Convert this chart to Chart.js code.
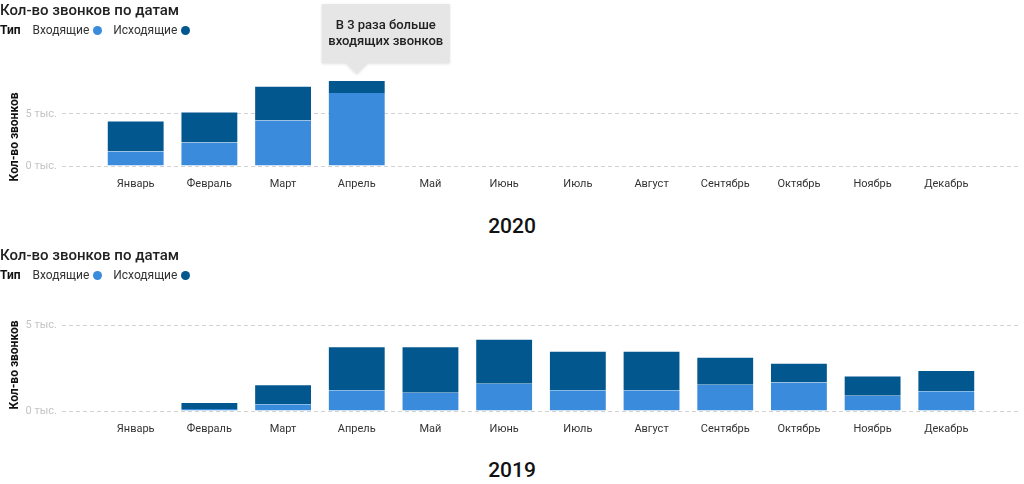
<!DOCTYPE html>
<html lang="ru">
<head>
<meta charset="utf-8">
<title>Кол-во звонков по датам</title>
<script src="https://cdn.jsdelivr.net/npm/chart.js@4/dist/chart.umd.min.js"></script>
<style>
    html, body {
        margin: 0;
        padding: 0;
        background: #ffffff;
    }
    body {
        position: relative;
        width: 1024px;
        height: 484px;
        overflow: hidden;
        font-family: Roboto, "Noto Sans", sans-serif;
        color: #212121;
    }
    .chart-box {
        position: absolute;
        left: 0;
        width: 1024px;
        height: 200px;
    }
    .chart-title {
        position: absolute;
        left: 0;
        font-size: 15px;
        font-weight: 500;
        line-height: 18px;
        z-index: 2;
    }
    .legend {
        position: absolute;
        left: 0;
        font-size: 12px;
        line-height: 14px;
        color: #333;
        white-space: nowrap;
        z-index: 2;
    }
    .legend b {
        color: #111;
        margin-right: 9px;
    }
    .legend .item {
        margin-right: 8px;
    }
    .legend .dot {
        display: inline-block;
        width: 9px;
        height: 9px;
        border-radius: 50%;
        margin-left: 4px;
        vertical-align: -1px;
    }
    .axis-title {
        position: absolute;
        left: 14px;
        font-size: 12px;
        font-weight: 700;
        color: #111;
        white-space: nowrap;
        transform: translate(-50%, -50%) rotate(-90deg);
        z-index: 2;
    }
    .year {
        position: absolute;
        left: 0;
        width: 1024px;
        text-align: center;
        font-size: 21px;
        font-weight: 500;
        line-height: 24px;
        color: #111;
    }
</style>
</head>
<body>

<div class="chart-title" style="top:1px">Кол-во звонков по датам</div>
<div class="legend" style="top:23px">
    <b>Тип</b>
    <span class="item">Входящие<span class="dot" style="background:#3a8bdc"></span></span>
    <span class="item">Исходящие<span class="dot" style="background:#02578f"></span></span>
</div>
<div class="axis-title" style="top:137px">Кол-во звонков</div>
<div class="chart-box" style="top:0"><canvas id="chart2020" width="1024" height="200"></canvas></div>
<div class="year" style="top:214px">2020</div>

<div class="chart-title" style="top:246px">Кол-во звонков по датам</div>
<div class="legend" style="top:268px">
    <b>Тип</b>
    <span class="item">Входящие<span class="dot" style="background:#3a8bdc"></span></span>
    <span class="item">Исходящие<span class="dot" style="background:#02578f"></span></span>
</div>
<div class="axis-title" style="top:365px">Кол-во звонков</div>
<div class="chart-box" style="top:245px"><canvas id="chart2019" width="1024" height="200"></canvas></div>
<div class="year" style="top:458px">2019</div>

<script>
// Categories
const months = ['Январь', 'Февраль', 'Март', 'Апрель', 'Май', 'Июнь',
    'Июль', 'Август', 'Сентябрь', 'Октябрь', 'Ноябрь', 'Декабрь'];

// 2020 (only first four months)
const incoming2020 = [1400, 2260, 4360, 7000];
const outgoing2020 = [2960, 2960, 3340, 1240];

// 2019
const incoming2019 = [0, 120, 390, 1210, 1060, 1580, 1210, 1210, 1520, 1650, 880, 1150];
const outgoing2019 = [0, 410, 1170, 2560, 2710, 2620, 2290, 2290, 1640, 1150, 1190, 1230];

// Y axis tick values and label suffix
const yTicks = [0, 5000];
const yTickSuffix = ' тыс.';

// Callout on the 2020 chart
const calloutIndex = 3;
const calloutLines = ['В 3 раза больше', 'входящих звонков'];

const COLOR_IN = '#3a8bdc';
const COLOR_OUT = '#02578f';

const toPoints = values => values.map((v, i) => ({ x: i, y: v }));

// Grey speech-bubble above one bar
const calloutPlugin = {
    id: 'callout',
    afterDatasetsDraw(chart) {
        const bar = chart.getDatasetMeta(1).data[calloutIndex];
        if (!bar) return;
        const ctx = chart.ctx;
        const tipX = bar.x;
        const tipY = bar.y - 6;
        const boxW = 128;
        const boxH = 59;
        const boxB = tipY - 11;
        const boxL = tipX - 35;

        ctx.save();
        ctx.shadowColor = 'rgba(0, 0, 0, 0.12)';
        ctx.shadowBlur = 3;
        ctx.shadowOffsetY = 1;
        ctx.fillStyle = '#e6e6e6';
        ctx.beginPath();
        ctx.moveTo(boxL, boxB - boxH);
        ctx.lineTo(boxL + boxW, boxB - boxH);
        ctx.lineTo(boxL + boxW, boxB);
        ctx.lineTo(tipX + 11, boxB);
        ctx.lineTo(tipX, tipY);
        ctx.lineTo(tipX - 11, boxB);
        ctx.lineTo(boxL, boxB);
        ctx.closePath();
        ctx.fill();
        ctx.restore();

        ctx.save();
        ctx.fillStyle = '#212121';
        ctx.font = '500 13px Roboto, "Noto Sans", sans-serif';
        ctx.textAlign = 'center';
        ctx.textBaseline = 'middle';
        ctx.fillText(calloutLines[0], boxL + boxW / 2, boxB - 37);
        ctx.fillText(calloutLines[1], boxL + boxW / 2, boxB - 21);
        ctx.restore();
    }
};

function createCallsChart(canvasId, incoming, outgoing, yMax, plugins) {
    const ctx = document.getElementById(canvasId).getContext('2d');
    return new Chart(ctx, {
        type: 'bar',
        data: {
            datasets: [
                {
                    label: 'Входящие',
                    data: toPoints(incoming),
                    backgroundColor: COLOR_IN,
                    borderColor: 'rgba(255, 255, 255, 0.28)',
                    borderWidth: { top: 0, left: 1, right: 1, bottom: 0 },
                    borderSkipped: false
                },
                {
                    label: 'Исходящие',
                    data: toPoints(outgoing),
                    backgroundColor: COLOR_OUT,
                    borderColor: 'rgba(255, 255, 255, 0.22)',
                    borderWidth: { top: 1, left: 1, right: 1, bottom: 0 },
                    borderSkipped: false
                }
            ]
        },
        options: {
            responsive: false,
            animation: false,
            devicePixelRatio: 1,
            categoryPercentage: 1,
            barPercentage: 0.785,
            layout: {
                autoPadding: false,
                padding: { top: 80, right: 4, left: 0, bottom: 0 }
            },
            plugins: {
                legend: { display: false },
                tooltip: { enabled: false }
            },
            scales: {
                x: {
                    type: 'linear',
                    stacked: true,
                    offset: false,
                    min: -1,
                    max: months.length,
                    afterFit: scale => {
                        scale.height = 34;
                        scale.paddingLeft = 0;
                        scale.paddingRight = 0;
                    },
                    grid: { display: false, drawTicks: false },
                    border: { display: false },
                    ticks: {
                        stepSize: 1,
                        autoSkip: false,
                        maxRotation: 0,
                        padding: 12,
                        color: '#333',
                        font: { family: 'Roboto', size: 11 },
                        callback: value => months[value] || ''
                    }
                },
                y: {
                    stacked: true,
                    min: 0,
                    max: yMax,
                    afterFit: scale => { scale.width = 62; },
                    afterBuildTicks: scale => {
                        scale.ticks = yTicks.filter(v => v <= scale.max).map(v => ({ value: v }));
                    },
                    grid: {
                        color: '#d2d2d2',
                        lineWidth: 1,
                        drawTicks: false
                    },
                    border: { display: false, dash: [4, 3] },
                    ticks: {
                        padding: 5,
                        color: '#c4c4c4',
                        font: { family: 'Roboto', size: 11 },
                        callback: value => (value / 1000) + yTickSuffix
                    }
                }
            }
        },
        plugins: plugins || []
    });
}

const totals2020 = incoming2020.map((v, i) => v + outgoing2020[i]);

createCallsChart('chart2020', incoming2020, outgoing2020, Math.max(...totals2020), [calloutPlugin]);
createCallsChart('chart2019', incoming2019, outgoing2019, yTicks[yTicks.length - 1]);
</script>
</body>
</html>
